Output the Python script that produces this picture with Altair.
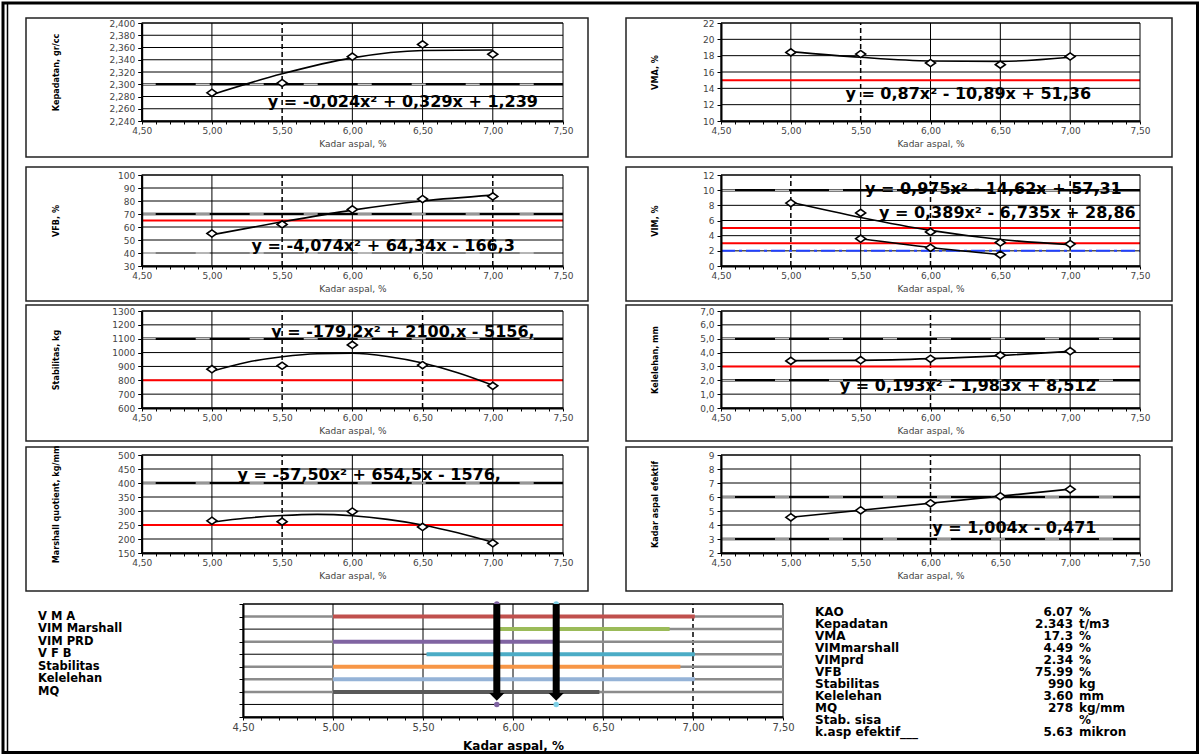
import altair as alt
import pandas as pd

# ---------------- shared x axis ----------------
X_DOMAIN = [4.5, 7.5]
x_ticks = [round(4.5 + 0.1 * i, 1) for i in range(31)]
x_major = [5.0, 5.5, 6.0, 6.5, 7.0]
asp = [5.0, 5.5, 6.0, 6.5, 7.0]
asp_q = [5.0, 5.25, 5.5, 5.75, 6.0, 6.25, 6.5, 6.75, 7.0]

# ---------------- panel data ----------------
kep_y = [2.286, 2.302, 2.345, 2.365, 2.349]
kep_fit = [2.283, 2.317, 2.343, 2.355, 2.356]
kep_ticks = [2.24, 2.26, 2.28, 2.30, 2.32, 2.34, 2.36, 2.38, 2.40]

vma_y = [18.4, 18.2, 17.1, 16.9, 17.9]
vma_fit = [18.5, 17.8, 17.35, 17.3, 17.8]
vma_ticks = [10, 12, 14, 16, 18, 20, 22]

vfb_y = [55.0, 62.0, 73.5, 81.5, 83.5]
vfb_fit = [54.0, 64.0, 73.0, 80.0, 84.5]
vfb_ticks = [30, 40, 50, 60, 70, 80, 90, 100]

vim_y = [8.3, 7.0, 4.5, 3.1, 2.9]
vim_fit = [8.4, 6.4, 4.7, 3.5, 2.8]
vimprd_x = [5.5, 6.0, 6.5]
vimprd_y = [3.6, 2.4, 1.5]
vimprd_fit = [3.6, 2.45, 1.5]
vim_ticks = [0, 2, 4, 6, 8, 10, 12]

stab_y = [880, 905, 1055, 910, 760]
stab_fit = [865, 930, 970, 992, 995, 972, 925, 855, 765]
stab_ticks = [600, 700, 800, 900, 1000, 1100, 1200, 1300]

flow_y = [3.4, 3.45, 3.55, 3.8, 4.1]
flow_fit = [3.42, 3.44, 3.56, 3.78, 4.09]
flow_ticks = [0, 1, 2, 3, 4, 5, 6, 7]

mq_y = [265, 262, 298, 243, 185]
mq_fit = [260, 275, 284, 288, 283, 270, 250, 222, 188]
mq_ticks = [150, 200, 250, 300, 350, 400, 450, 500]

kae_y = [4.55, 5.05, 5.55, 6.05, 6.55]
kae_fit_x = [5.0, 7.0]
kae_fit = [4.55, 6.56]
kae_ticks = [2, 3, 4, 5, 6, 7, 8, 9]

# equations (text, x, y)
kep_eq = [("y = -0,024x² + 0,329x + 1,239", 6.36, 2.271)]
vma_eq = [("y = 0,87x² - 10,89x + 51,36", 6.27, 13.3)]
vfb_eq = [("y = -4,074x² + 64,34x - 166,3", 6.22, 45.5)]
vim_eq = [("y = 0,975x² - 14,62x + 57,31", 6.45, 10.2),
          ("y = 0,389x² - 6,735x + 28,86", 6.55, 7.0)]
stab_eq = [("y = -179,2x² + 2100,x - 5156,", 6.36, 1150)]
flow_eq = [("y = 0,193x² - 1,983x + 8,512", 6.27, 1.6)]
mq_eq = [("y = -57,50x² + 654,5x - 1576,", 6.12, 430)]
kae_eq = [("y = 1,004x - 0,471", 6.6, 3.8)]

# bottom range chart
rng_labels = ["V M A", "VIM Marshall", "VIM PRD", "V F B", "Stabilitas", "Kelelehan", "MQ"]
rng_rows = [8, 7, 6, 5, 4, 3, 2]
rng_start = [5.0, 5.92, 5.0, 5.52, 5.0, 5.0, 5.0]
rng_end = [7.01, 6.87, 6.23, 7.01, 6.93, 7.01, 6.48]
rng_gray_start = [4.5, 5.92, 4.5, 5.52, 4.5, 4.5, 4.5]
rng_colors = ["#c0504d", "#9bbb59", "#8064a2", "#4bacc6", "#f79646", "#95b3d7", "#595959"]
rng_ticks = [0, 1, 2, 3, 4, 5, 6, 7, 8, 9]
arrow_x = [5.91, 6.24]
arrow_colors = ["#8064a2", "#7fd0e6"]

# summary table
tbl_labels = ["KAO", "Kepadatan", "VMA", "VIMmarshall", "VIMprd", "VFB", "Stabilitas",
              "Kelelehan", "MQ", "Stab. sisa", "k.asp efektif___"]
tbl_values = ["6.07", "2.343", "17.3", "4.49", "2.34", "75.99", "990", "3.60", "278", "", "5.63"]
tbl_units = ["%", "t/m3", "%", "%", "%", "%", "kg", "mm", "kg/mm", "%", "mikron"]

# ---------------- styling / layout (pixel positions of the plot areas) ----------------
FONT = "DejaVu Sans"
FONT_YT = "Liberation Sans Narrow, DejaVu Sans Condensed, Arial Narrow, sans-serif"
DIAMOND = "M-1,0L0,-0.72L1,0L0,0.72Z"
TRI = "M-1,-1L1,-1L0,0Z"
LBL_X = ("abs(datum.value*2-round(datum.value*2))<0.01 ? "
         "replace(format(datum.value,'.2f'),'.',',') : ''")

IMG_W, IMG_H = 1201, 756
FRAME = (3, 3, 1197.5, 752.5)
COL_X0 = [141.7, 721.0]
COL_W = [421.3, 419.0]
ROW_TOP = [23, 175, 311, 455]
ROW_H = [98, 91, 97, 98]
COL_BOX = [(26, 588), (626, 1172)]
ROW_BOX = [(18, 157), (167, 301), (305, 441), (447, 591)]
COL_TITLE_CX = [55, 654]

RNG_X0, RNG_W, RNG_TOP, RNG_H = 243.0, 540.0, 604.0, 113.0
TBL_ROW_Y = (612, 732)
TBL_COL_X = (815, 1073, 1079)
RNG_LABEL_X = 38

ONE = pd.DataFrame({"k": [0]})


def x_axis(bottom_px, title_size=9, bold=False, label_size=9, title_y=22, color="#444"):
    return alt.Axis(orient="bottom", offset=bottom_px - IMG_H, values=x_ticks, labelExpr=LBL_X,
                    grid=False, domainColor="black", domainWidth=2, tickColor="black",
                    tickSize=3, labelFont=FONT, labelFontSize=label_size, labelColor="#444",
                    labelPadding=2, labelFlush=False, labelOverlap=False,
                    title="Kadar aspal, %", titleFont=FONT, titleFontSize=title_size,
                    titleFontWeight="bold" if bold else "normal", titleColor=color,
                    titleY=title_y, titleBaseline="middle", zindex=1)


def y_axis(left_px, vals, expr, title, title_cx, title_cy):
    return alt.Axis(orient="left", offset=-left_px, values=vals, labelExpr=expr, grid=False,
                    domainColor="black", domainWidth=2, tickColor="black", tickSize=4,
                    labelFont=FONT, labelFontSize=9, labelColor="#444", labelPadding=3,
                    labelOverlap=False, title=title, titleFont=FONT_YT, titleFontSize=9,
                    titleFontWeight="bold", titleColor="black", titleAngle=270,
                    titleX=title_cx - left_px, titleY=title_cy, titleAlign="center",
                    titleBaseline="middle", zindex=1)


def box_layer(x0, x1, y0, y1, width=1.5, color="#222"):
    return alt.Chart(ONE).mark_rect(fillOpacity=0, stroke=color, strokeWidth=width).encode(
        x=alt.value(x0), x2=alt.value(x1), y=alt.value(y0), y2=alt.value(y1))


def make_panel(series, yticks, yexpr, ytitle, col, row, red=(), blue=(), thick=(), dots=(),
               vdash=(), eqs=()):
    x0, w = COL_X0[col], COL_W[col]
    top, h = ROW_TOP[row], ROW_H[row]
    ymin, ymax = yticks[0], yticks[-1]
    XS = alt.Scale(domain=X_DOMAIN, range=[x0, x0 + w], nice=False, zero=False)
    YS = alt.Scale(domain=[ymin, ymax], range=[top + h, top], nice=False, zero=False)
    XA = x_axis(top + h)
    YA = y_axis(x0, yticks, yexpr, ytitle, COL_TITLE_CX[col], top + h / 2)

    def X(f):
        return alt.X(f, scale=XS, axis=XA)

    def Y(f):
        return alt.Y(f, scale=YS, axis=YA)

    def hdf(vals):
        return pd.DataFrame({"y": list(vals), "xa": X_DOMAIN[0], "xb": X_DOMAIN[1]})

    def vdf(vals):
        return pd.DataFrame({"x": list(vals), "ya": ymin, "yb": ymax})

    bx0, bx1 = COL_BOX[col]
    by0, by1 = ROW_BOX[row]
    layers = [box_layer(bx0, bx1, by0, by1)]
    layers.append(alt.Chart(hdf(yticks)).mark_rule(color="black", strokeWidth=1).encode(
        x=X("xa:Q"), x2="xb:Q", y=Y("y:Q")))
    solid = [v for v in x_major if v not in vdash]
    layers.append(alt.Chart(vdf(solid)).mark_rule(color="black", strokeWidth=1).encode(
        x=X("x:Q"), y=Y("ya:Q"), y2="yb:Q"))
    if vdash:
        layers.append(alt.Chart(vdf(vdash)).mark_rule(
            color="black", strokeWidth=1.5, strokeDash=[5, 3]).encode(
            x=X("x:Q"), y=Y("ya:Q"), y2="yb:Q"))
    if thick:
        layers.append(alt.Chart(hdf(thick)).mark_rule(color="black", strokeWidth=2.5).encode(
            x=X("xa:Q"), x2="xb:Q", y=Y("y:Q")))
    if thick or dots:
        layers.append(alt.Chart(hdf(list(thick) + list(dots))).mark_rule(
            color="#c8c8c8", strokeWidth=1.5, strokeDash=[14, 40]).encode(
            x=X("xa:Q"), x2="xb:Q", y=Y("y:Q")))
    if red:
        layers.append(alt.Chart(hdf(red)).mark_rule(color="#ff0000", strokeWidth=2).encode(
            x=X("xa:Q"), x2="xb:Q", y=Y("y:Q")))
    if blue:
        layers.append(alt.Chart(hdf(blue)).mark_rule(
            color="#2040ff", strokeWidth=2, strokeDash=[14, 4, 3, 4]).encode(
            x=X("xa:Q"), x2="xb:Q", y=Y("y:Q")))
    border = pd.DataFrame({"xa": [X_DOMAIN[0]], "xb": [X_DOMAIN[1]], "ya": [ymin], "yb": [ymax]})
    layers.append(alt.Chart(border).mark_rect(fillOpacity=0, stroke="black", strokeWidth=1).encode(
        x=X("xa:Q"), x2="xb:Q", y=Y("ya:Q"), y2="yb:Q"))
    for px, py, fx, fy in series:
        layers.append(alt.Chart(pd.DataFrame({"x": fx, "y": fy})).mark_line(
            color="black", strokeWidth=1.6, interpolate="monotone").encode(x=X("x:Q"), y=Y("y:Q")))
        layers.append(alt.Chart(pd.DataFrame({"x": px, "y": py})).mark_point(
            shape=DIAMOND, size=100, filled=True, fill="white", stroke="black",
            strokeWidth=1.6, opacity=1).encode(x=X("x:Q"), y=Y("y:Q")))
    if eqs:
        dfe = pd.DataFrame({"t": [e[0] for e in eqs], "x": [e[1] for e in eqs],
                            "y": [e[2] for e in eqs]})
        layers.append(alt.Chart(dfe).mark_text(
            font=FONT, fontWeight="bold", fontSize=16, align="center", baseline="middle",
            color="black").encode(x=X("x:Q"), y=Y("y:Q"), text="t:N"))
    return alt.layer(*layers)


def yfmt(fmt, comma=False):
    if comma:
        return "replace(format(datum.value,'%s'),'.',',')" % fmt
    return "format(datum.value,'%s')" % fmt


p1 = make_panel([(asp, kep_y, asp, kep_fit)], kep_ticks, yfmt(".3f", True),
                "Kepadatan, gr/cc", 0, 0, thick=[2.30], vdash=[5.5], eqs=kep_eq)
p2 = make_panel([(asp, vma_y, asp, vma_fit)], vma_ticks, yfmt("d"), "VMA, %", 1, 0,
                red=[15], vdash=[5.5], eqs=vma_eq)
p3 = make_panel([(asp, vfb_y, asp, vfb_fit)], vfb_ticks, yfmt("d"), "VFB, %", 0, 1,
                red=[65], thick=[70], dots=[40], vdash=[5.5, 7.0], eqs=vfb_eq)
p4 = make_panel([(asp, vim_y, asp, vim_fit), (vimprd_x, vimprd_y, vimprd_x, vimprd_fit)],
                vim_ticks, yfmt("d"), "VIM, %", 1, 1, red=[5, 3], blue=[2], thick=[10],
                vdash=[5.0, 6.0, 7.0], eqs=vim_eq)
p5 = make_panel([(asp, stab_y, asp_q, stab_fit)], stab_ticks, yfmt("d"), "Stabilitas, kg",
                0, 2, red=[800], thick=[1100], vdash=[5.5, 6.5], eqs=stab_eq)
p6 = make_panel([(asp, flow_y, asp, flow_fit)], flow_ticks, yfmt(".1f", True),
                "Kelelehan, mm", 1, 2, red=[3], thick=[5, 2], vdash=[6.0], eqs=flow_eq)
p7 = make_panel([(asp, mq_y, asp_q, mq_fit)], mq_ticks, yfmt("d"),
                "Marshall quotient, kg/mm", 0, 3, red=[250], thick=[400], vdash=[5.5],
                eqs=mq_eq)
p8 = make_panel([(asp, kae_y, kae_fit_x, kae_fit)], kae_ticks, yfmt("d"),
                "Kadar aspal efektif", 1, 3, thick=[6, 3], vdash=[6.0], eqs=kae_eq)

# ---------------- bottom range chart ----------------
XSr = alt.Scale(domain=X_DOMAIN, range=[RNG_X0, RNG_X0 + RNG_W], nice=False, zero=False)
YSr = alt.Scale(domain=[0, 9], range=[RNG_TOP + RNG_H, RNG_TOP], nice=False, zero=False)
XAr = x_axis(RNG_TOP + RNG_H, title_size=12, bold=True, label_size=10, title_y=28,
             color="black")
YAr = alt.Axis(orient="left", offset=-RNG_X0, values=rng_ticks, labels=False, grid=False,
               domainColor="black", domainWidth=2, tickColor="black", tickSize=4, title="",
               zindex=1)


def Xr(f):
    return alt.X(f, scale=XSr, axis=XAr)


def Yr(f):
    return alt.Y(f, scale=YSr, axis=YAr)


df_hgrid = pd.DataFrame({"y": rng_ticks, "xa": X_DOMAIN[0], "xb": X_DOMAIN[1]})
df_vgrid = pd.DataFrame({"x": [5.0, 5.5, 6.0, 6.5], "ya": 0, "yb": 9})
df_vdash = pd.DataFrame({"x": [7.0], "ya": 0, "yb": 9})
df_rng = pd.DataFrame({"x": rng_start, "x2": rng_end, "y": rng_rows, "lab": rng_labels})
df_gray = pd.DataFrame({"x": rng_gray_start, "x2": [7.5] * len(rng_rows), "y": rng_rows})
df_arr = pd.DataFrame({"x": arrow_x, "y": [9] * 2, "y2": [1.85] * 2})
df_head = pd.DataFrame({"x": arrow_x, "y": [1.3] * 2})
df_mark = pd.DataFrame({"x": arrow_x + arrow_x, "y": [9, 9, 1, 1],
                        "c": arrow_colors + arrow_colors})
df_rborder = pd.DataFrame({"xa": [4.5], "xb": [7.5], "ya": [0], "yb": [9]})

rng = alt.layer(
    alt.Chart(df_hgrid).mark_rule(color="black", strokeWidth=1).encode(
        x=Xr("xa:Q"), x2="xb:Q", y=Yr("y:Q")),
    alt.Chart(df_vgrid).mark_rule(color="black", strokeWidth=1).encode(
        x=Xr("x:Q"), y=Yr("ya:Q"), y2="yb:Q"),
    alt.Chart(df_vdash).mark_rule(color="black", strokeWidth=1.5, strokeDash=[5, 3]).encode(
        x=Xr("x:Q"), y=Yr("ya:Q"), y2="yb:Q"),
    alt.Chart(df_rborder).mark_rect(fillOpacity=0, stroke="black", strokeWidth=1).encode(
        x=Xr("xa:Q"), x2="xb:Q", y=Yr("ya:Q"), y2="yb:Q"),
    alt.Chart(df_gray).mark_rule(color="#8c8c8c", strokeWidth=2.5).encode(
        x=Xr("x:Q"), x2="x2:Q", y=Yr("y:Q")),
    alt.Chart(df_rng).mark_rule(strokeWidth=4).encode(
        x=Xr("x:Q"), x2="x2:Q", y=Yr("y:Q"),
        color=alt.Color("lab:N", scale=alt.Scale(domain=rng_labels, range=rng_colors),
                        legend=None)),
    alt.Chart(df_mark).mark_point(filled=True, size=30, opacity=1).encode(
        x=Xr("x:Q"), y=Yr("y:Q"), color=alt.Color("c:N", scale=None)),
    alt.Chart(df_arr).mark_rule(color="black", strokeWidth=7).encode(
        x=Xr("x:Q"), y=Yr("y:Q"), y2="y2:Q"),
    alt.Chart(df_head).mark_point(shape=TRI, size=230, filled=True, color="black",
                                  opacity=1).encode(x=Xr("x:Q"), y=Yr("y:Q")),
    alt.Chart(df_rng).mark_text(align="left", baseline="middle", font=FONT, fontSize=11.5,
                                fontWeight="bold", color="black").encode(
        x=alt.value(RNG_LABEL_X), y=Yr("y:Q"), text="lab:N"),
)

# ---------------- summary table ----------------
df_tbl = pd.DataFrame({"row": list(range(len(tbl_labels))), "lab": tbl_labels,
                       "val": tbl_values, "unit": tbl_units})
Yt = alt.Y("row:Q", scale=alt.Scale(domain=[0, 10], range=list(TBL_ROW_Y), nice=False,
                                    zero=False), axis=None)
txt = dict(baseline="middle", font=FONT, fontSize=12, fontWeight="bold", color="black")
tbl = alt.layer(
    alt.Chart(df_tbl).mark_text(align="left", **txt).encode(
        x=alt.value(TBL_COL_X[0]), y=Yt, text="lab:N"),
    alt.Chart(df_tbl).mark_text(align="right", **txt).encode(
        x=alt.value(TBL_COL_X[1]), y=Yt, text="val:N"),
    alt.Chart(df_tbl).mark_text(align="left", **txt).encode(
        x=alt.value(TBL_COL_X[2]), y=Yt, text="unit:N"),
)

frame = box_layer(FRAME[0], FRAME[2], FRAME[1], FRAME[3], width=3, color="black")
frame_inner = alt.Chart(ONE).mark_rule(color="black", strokeWidth=1.5).encode(
    x=alt.value(7.5), y=alt.value(FRAME[1]), y2=alt.value(FRAME[3]))

chart = alt.layer(p1, p2, p3, p4, p5, p6, p7, p8, rng, tbl, frame, frame_inner).resolve_scale(
    x="independent", y="independent"
).resolve_axis(
    x="independent", y="independent"
).properties(
    width=IMG_W, height=IMG_H, padding=0, background="white"
).configure_view(stroke="transparent")

chart.save("out.html", embed_options={"renderer": "svg", "actions": False})
